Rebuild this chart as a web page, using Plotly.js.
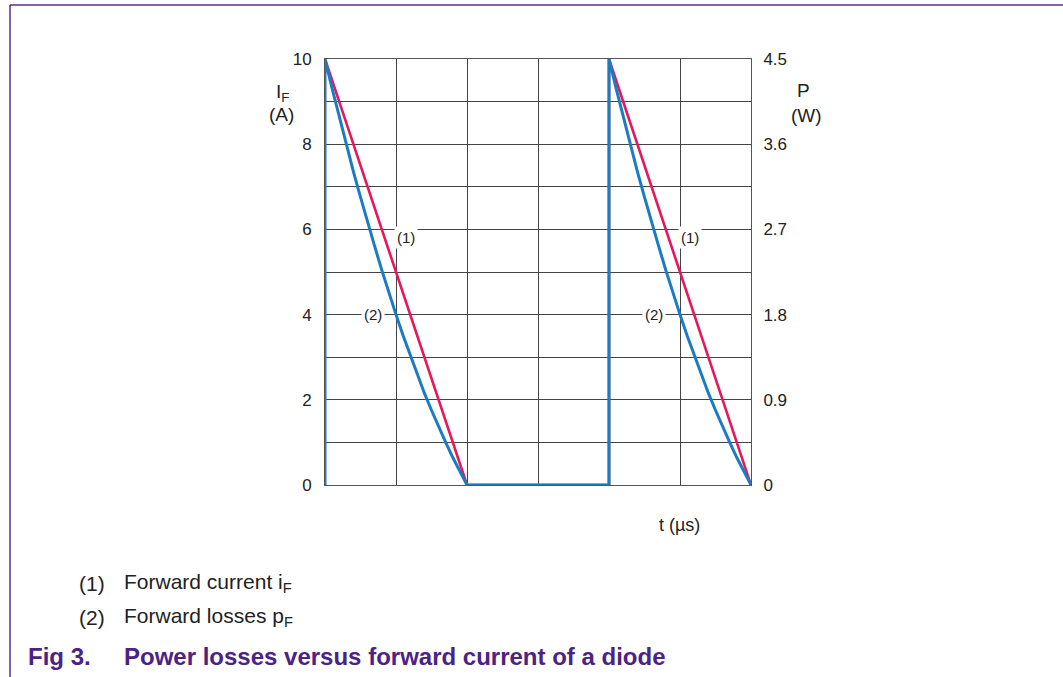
<!DOCTYPE html>
<html>
<head>
<meta charset="utf-8">
<script src="https://cdn.plot.ly/plotly-3.0.1.min.js"></script>
<style>
  html, body { margin: 0; padding: 0; background: #fff; }
  #chart { width: 1063px; height: 677px; }
</style>
</head>
<body>
<div id="chart"></div>
<script>
// ---- data ----
// (1) forward current iF (A), left axis
const tCurrent = [0, 2, 4, 4, 6];
const iF = [10, 0, 0, 10, 0];

// (2) forward losses pF (W), right axis
const tPower = [0, 0, 0.1, 0.2, 0.3, 0.4, 0.5, 0.6, 0.7, 0.8, 0.9, 1.0,
                1.1, 1.2, 1.3, 1.4, 1.5, 1.6, 1.7, 1.8, 1.9, 2.0,
                4, 4, 4.1, 4.2, 4.3, 4.4, 4.5, 4.6, 4.7, 4.8, 4.9, 5.0,
                5.1, 5.2, 5.3, 5.4, 5.5, 5.6, 5.7, 5.8, 5.9, 6.0];
const pF = [0, 4.5, 4.19, 3.89, 3.60, 3.31, 3.04, 2.77, 2.52, 2.27, 2.03, 1.80,
            1.58, 1.37, 1.17, 0.97, 0.79, 0.61, 0.45, 0.29, 0.14, 0,
            0, 4.5, 4.19, 3.89, 3.60, 3.31, 3.04, 2.77, 2.52, 2.27, 2.03, 1.80,
            1.58, 1.37, 1.17, 0.97, 0.79, 0.61, 0.45, 0.29, 0.14, 0];

const leftTickVals = [0, 1, 2, 3, 4, 5, 6, 7, 8, 9, 10];
const leftTickText = ['0', '', '2', '', '4', '', '6', '', '8', '', '10'];
const rightTickVals = [0, 0.9, 1.8, 2.7, 3.6, 4.5];
const rightTickText = ['0', '0.9', '1.8', '2.7', '3.6', '4.5'];

const legendLabels = ['(1)', '(2)'];
const legendTexts = ['Forward current i<sub>F</sub>', 'Forward losses p<sub>F</sub>'];
const figLabel = 'Fig 3.';
const figTitle = 'Power losses versus forward current of a diode';

// ---- layout helpers (pixel -> paper) ----
const W = 1063, H = 677;
const M = { l: 325, r: 312, t: 59, b: 192 };
const PW = W - M.l - M.r, PH = H - M.t - M.b;
const px = x => (x - M.l) / PW;
const py = y => (H - M.b - y) / PH;

const RED = '#e5185b';
const BLUE = '#1b7cc3';
const PURPLE = '#5b2c8f';
const CAPTION = '#4b2383';
const FONT = 'Arial, "Liberation Sans", sans-serif';
const GRID = '#444444';

const traces = [
  {
    x: tCurrent, y: iF, yaxis: 'y', type: 'scatter', mode: 'lines',
    line: { color: RED, width: 2.6 }, hoverinfo: 'skip', showlegend: false
  },
  {
    x: tPower, y: pF, yaxis: 'y2', type: 'scatter', mode: 'lines',
    line: { color: BLUE, width: 3 },
    hoverinfo: 'skip', showlegend: false
  }
];

const tickFont = { family: FONT, size: 17, color: '#222' };
const titleFont = { family: FONT, size: 19, color: '#222' };
const noteFont = { family: FONT, size: 21, color: '#222' };
const curveFont = { family: FONT, size: 15, color: '#222' };
const capFont = { family: FONT, size: 24, color: CAPTION };

function pAnn(x, y, text, font, xanchor) {
  return { x: px(x), y: py(y), xref: 'paper', yref: 'paper', xanchor: xanchor || 'center',
           yanchor: 'middle', text: text, showarrow: false, font: font };
}
function cAnn(x, y, text) {
  return { x: x, y: y, xref: 'x', yref: 'y', xanchor: 'center', yanchor: 'middle', text: text,
           showarrow: false, bgcolor: '#fff', borderpad: 2, font: curveFont };
}

const annotations = [
  // curve labels
  cAnn(1.14, 5.8, '(1)'),
  cAnn(0.67, 4.0, '(2)'),
  cAnn(5.14, 5.8, '(1)'),
  cAnn(4.64, 4.0, '(2)'),
  // axis titles
  pAnn(282, 93, 'I<sub>F</sub>', titleFont),
  pAnn(281, 114, '(A)', titleFont),
  pAnn(803, 91, 'P', titleFont),
  pAnn(806, 115, '(W)', titleFont),
  pAnn(679, 525, 't (µs)', { family: FONT, size: 18, color: '#222' }),
  // notes
  pAnn(77, 583, legendLabels[0], noteFont, 'left'),
  pAnn(122, 583, legendTexts[0], noteFont, 'left'),
  pAnn(77, 617, legendLabels[1], noteFont, 'left'),
  pAnn(122, 617, legendTexts[1], noteFont, 'left'),
  pAnn(26, 656, '<b>' + figLabel + '</b>', capFont, 'left'),
  pAnn(122, 656, '<b>' + figTitle + '</b>', capFont, 'left')
];

const shapes = [
  { type: 'line', xref: 'paper', yref: 'paper', x0: px(10), x1: px(10), y0: py(5), y1: py(H + 5), line: { color: PURPLE, width: 1.5 } },
  { type: 'line', xref: 'paper', yref: 'paper', x0: px(10), x1: px(W + 5), y0: py(5), y1: py(5), line: { color: PURPLE, width: 1.5 } }
];

const layout = {
  width: W, height: H,
  margin: M,
  paper_bgcolor: '#fff', plot_bgcolor: '#fff',
  showlegend: false,
  xaxis: {
    range: [0, 6], tick0: 0, dtick: 1, showgrid: true, gridcolor: GRID, gridwidth: 1,
    showticklabels: false, ticks: '', zeroline: false,
    showline: true, linecolor: '#555', linewidth: 1, mirror: true, fixedrange: true
  },
  yaxis: {
    range: [0, 10], tickmode: 'array', tickvals: leftTickVals, ticktext: leftTickText,
    showgrid: true, gridcolor: GRID, gridwidth: 1, zeroline: false,
    ticks: 'outside', ticklen: 9, tickcolor: 'rgba(0,0,0,0)',
    tickfont: tickFont, showline: true, linecolor: '#555', linewidth: 1, fixedrange: true
  },
  yaxis2: {
    overlaying: 'y', side: 'right', range: [0, 4.5], tickmode: 'array',
    tickvals: rightTickVals, ticktext: rightTickText,
    showgrid: false, zeroline: false,
    ticks: 'outside', ticklen: 8, tickcolor: 'rgba(0,0,0,0)',
    tickfont: tickFont, showline: true, linecolor: '#555', linewidth: 1, fixedrange: true
  },
  annotations: annotations,
  shapes: shapes
};

Plotly.newPlot('chart', traces, layout, { staticPlot: true, displayModeBar: false });
</script>
</body>
</html>
